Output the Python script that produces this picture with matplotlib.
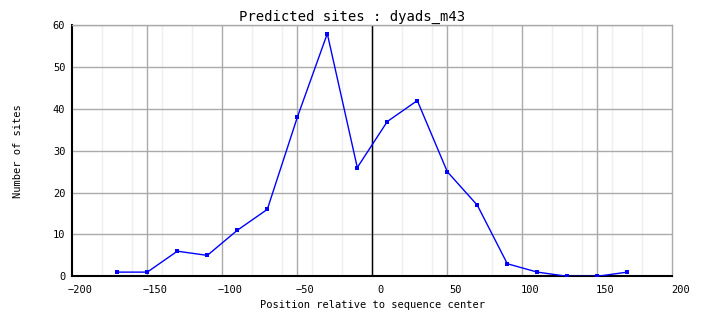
import matplotlib

matplotlib.use("Agg")

import matplotlib.pyplot as plt
import matplotlib.transforms as mtransforms
import numpy as np

positions = [-170, -150, -130, -110, -90, -70, -50, -30, -10, 10, 30, 50, 70, 90, 110, 130, 150, 170]
site_counts = [1, 1, 6, 5, 11, 16, 38, 58, 26, 37, 42, 25, 17, 3, 1, 0, 0, 1]
x_ticks = [-200, -150, -100, -50, 0, 50, 100, 150, 200]
x_minor = [-180, -160, -140, -120, -80, -60, -40, -20, 20, 40, 60, 80, 120, 140, 160, 180]
y_ticks = [0, 10, 20, 30, 40, 50, 60]

FONT = "DejaVu Sans Mono"

fig = plt.figure(figsize=(7.04, 3.28), dpi=100)
fig.patch.set_facecolor("white")
ax = fig.add_axes([72.3 / 704, 51.7 / 328, 600 / 704, 251 / 328])

ax.set_xlim(-200, 200)
ax.set_ylim(0, 60)

# light minor grid, grey major grid
for xm in x_minor:
    ax.axvline(xm, color="#efefef", linewidth=1, zorder=0)
for xt in x_ticks[1:-1]:
    ax.axvline(xt, color="#aaaaaa", linewidth=1, zorder=1)
for yt in y_ticks[1:]:
    ax.axhline(yt, color="#aaaaaa", linewidth=1, zorder=1)

ax.axvline(0, color="black", linewidth=1, zorder=2)

ax.plot(positions, site_counts, color="#0000ff", linewidth=1,
        marker="s", markersize=3, markeredgewidth=0, zorder=3)

for side in ("top", "right"):
    ax.spines[side].set_color("#aaaaaa")
    ax.spines[side].set_linewidth(1)
for side in ("left", "bottom"):
    ax.spines[side].set_color("black")
    ax.spines[side].set_linewidth(1.5)

ax.set_xticks(x_ticks)
ax.set_yticks(y_ticks)
ax.tick_params(length=0, labelsize=7.5)
ax.tick_params(axis="x", pad=6)
ax.tick_params(axis="y", pad=5)
for lbl in ax.get_xticklabels() + ax.get_yticklabels():
    lbl.set_fontfamily(FONT)

shift = mtransforms.ScaledTranslation(8 / 100, 0, fig.dpi_scale_trans)
for lbl in ax.get_xticklabels():
    lbl.set_transform(lbl.get_transform() + shift)

ax.set_xlabel("Position relative to sequence center", fontfamily=FONT, fontsize=7.5, labelpad=4)
fig.text(18 / 704, 1 - 150.8 / 328, "Number of sites", rotation=90, fontfamily=FONT,
         fontsize=7.5, ha="center", va="center")
fig.text(0.5, 1 - 17 / 328, "Predicted sites : dyads_m43", fontfamily=FONT,
         fontsize=10, ha="center", va="center")

fig.savefig("out.png", dpi=100)
plt.close(fig)
